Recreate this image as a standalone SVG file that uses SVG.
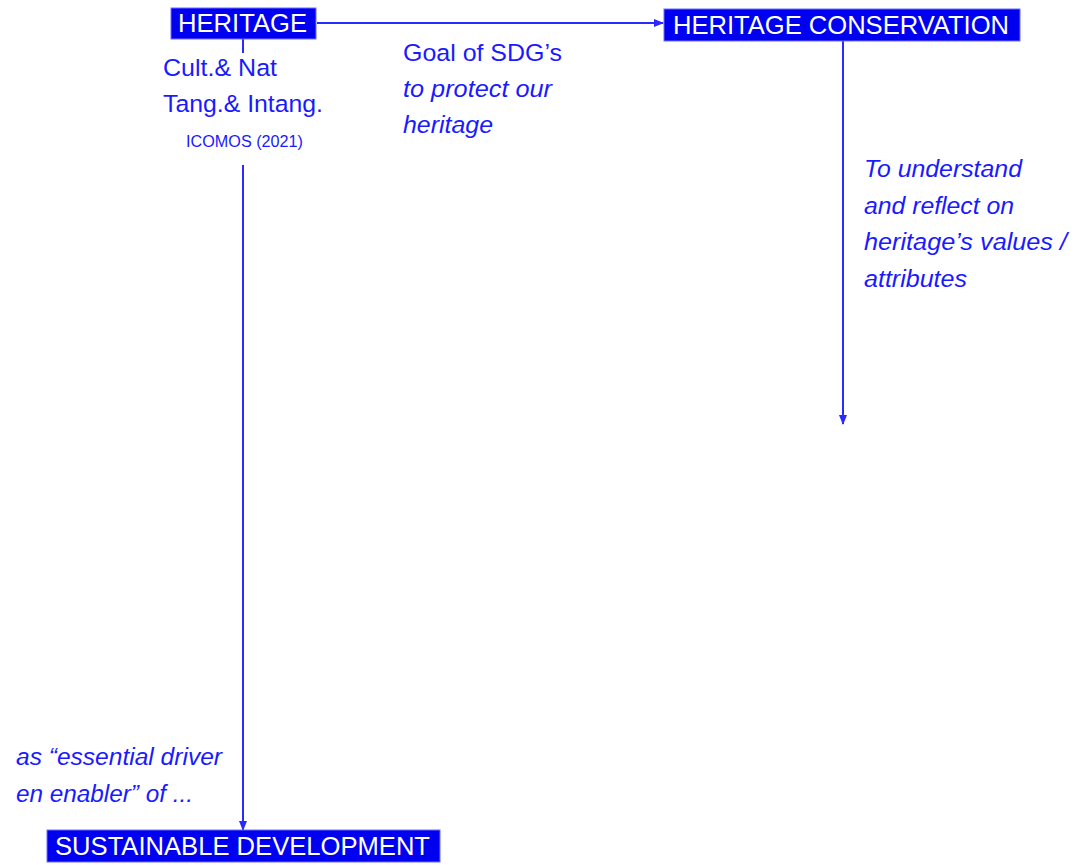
<svg xmlns="http://www.w3.org/2000/svg" width="1076" height="865" viewBox="0 0 1076 865">
<style>
.box{fill:#0000f0;stroke:#6c6cff;stroke-width:1}
.bt{font-family:"Liberation Sans",Arial,sans-serif;font-size:25px;fill:#fff}
.t{font-family:"Liberation Sans",Arial,sans-serif;font-size:24.5px;fill:#1a1aff}
.i{font-style:italic}
.s{font-size:16px}
.ln{stroke:#2a2aff;stroke-width:2;fill:none}
</style>
<defs>
<marker id="ah" markerWidth="10" markerHeight="10" refX="9" refY="5" orient="auto" markerUnits="userSpaceOnUse">
<path d="M0,1 L10,5 L0,9 z" fill="#2a2aff"/>
</marker>
</defs>
<rect width="1076" height="865" fill="#fff"/>
<g id="connectors">
<line class="ln" x1="317" y1="23" x2="663" y2="23" marker-end="url(#ah)"/>
<line class="ln" x1="243" y1="39" x2="243" y2="53"/>
<line class="ln" x1="243" y1="165" x2="243" y2="830" marker-end="url(#ah)"/>
<line class="ln" x1="843" y1="41" x2="843" y2="424" marker-end="url(#ah)"/>
</g>
<g id="heritage">
<rect class="box" x="171" y="8" width="145" height="31"/>
<text class="bt" x="178" y="32" textLength="129" lengthAdjust="spacingAndGlyphs">HERITAGE</text>
</g>
<g id="heritage-notes">
<text class="t" x="163" y="76" textLength="114" lengthAdjust="spacingAndGlyphs">Cult.&amp; Nat</text>
<text class="t" x="163" y="112" textLength="160" lengthAdjust="spacingAndGlyphs">Tang.&amp; Intang.</text>
<text class="t s" x="186" y="147" textLength="117" lengthAdjust="spacingAndGlyphs">ICOMOS (2021)</text>
</g>
<g id="heritage-conservation">
<rect class="box" x="664" y="9" width="356" height="32"/>
<text class="bt" x="673" y="33.5" textLength="336" lengthAdjust="spacingAndGlyphs">HERITAGE CONSERVATION</text>
</g>
<g id="goal-label">
<text class="t" x="403" y="61" textLength="159" lengthAdjust="spacingAndGlyphs">Goal of SDG’s</text>
<text class="t i" x="403" y="97" textLength="149" lengthAdjust="spacingAndGlyphs">to protect our</text>
<text class="t i" x="403" y="133" textLength="90" lengthAdjust="spacingAndGlyphs">heritage</text>
</g>
<g id="understand-label">
<text class="t i" x="864" y="177" textLength="158" lengthAdjust="spacingAndGlyphs">To understand</text>
<text class="t i" x="864" y="214" textLength="150" lengthAdjust="spacingAndGlyphs">and reflect on</text>
<text class="t i" x="864" y="250" textLength="203" lengthAdjust="spacingAndGlyphs">heritage’s values /</text>
<text class="t i" x="864" y="287" textLength="103" lengthAdjust="spacingAndGlyphs">attributes</text>
</g>
<g id="driver-label">
<text class="t i" x="16" y="765" textLength="206" lengthAdjust="spacingAndGlyphs">as “essential driver</text>
<text class="t i" x="16" y="802" textLength="177" lengthAdjust="spacingAndGlyphs">en enabler” of ...</text>
</g>
<g id="sustainable-development">
<rect class="box" x="47" y="830" width="393" height="32"/>
<text class="bt" x="55" y="855" textLength="375" lengthAdjust="spacingAndGlyphs">SUSTAINABLE DEVELOPMENT</text>
</g>
</svg>
